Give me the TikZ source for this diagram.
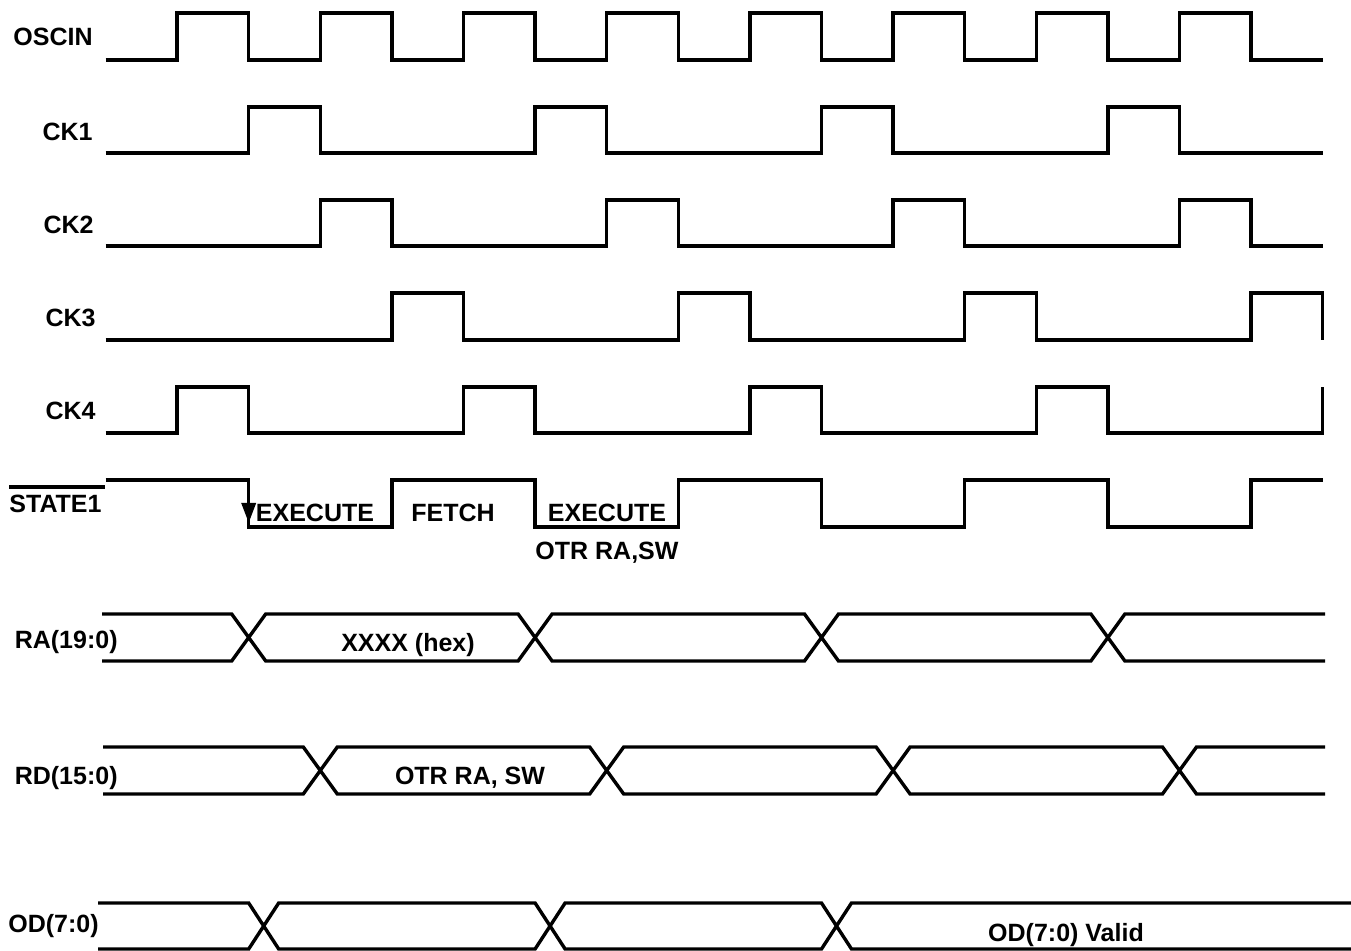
\documentclass[tikz,border=0pt]{standalone}
\usepackage{fontspec}
\setmainfont{Liberation Sans}
\usetikzlibrary{arrows.meta,positioning}

\begin{document}
\begin{tikzpicture}[x=0.5pt,y=-0.5pt,
    sig/.style={line width=1.7pt},
    lbl/.style={font=\bfseries\fontsize{12.5}{14}\selectfont,inner sep=0pt},
    declare function={tk(\k)=105.5+71.6*\k;}]
   \useasboundingbox (0,0) rectangle (1351,951);

   \node[lbl,anchor=base east] (oscin) at (93,46)  {OSCIN};
   \node[lbl,anchor=base east] (ck1)   at (93,141) {CK1};
   \node[lbl,anchor=base east] (ck2)   at (94,234) {CK2};
   \node[lbl,anchor=base east] (ck3)   at (96,327) {CK3};
   \node[lbl,anchor=base east] (ck4)   at (96,420) {CK4};
   \node[lbl,anchor=base west] (state) at (9,513)  {STATE1};
   \node[lbl,anchor=base east] (ra)    at (118,649) {RA(19:0)};
   \node[lbl,anchor=base east] (rd)    at (118,785) {RD(15:0)};
   \node[lbl,anchor=base east] (od)    at (99,933)  {OD(7:0)};

   \node[lbl,anchor=base] (exec1) at (315,522) {EXECUTE};
   \node[lbl,anchor=base] (fetch) at (453,522) {FETCH};
   \node[lbl,anchor=base] (exec2) at (607,522) {EXECUTE};
   \node[lbl,anchor=base] (instr) at (607,560) {OTR RA,SW};
   \node[lbl,anchor=base] (addr)  at (408,652) {XXXX (hex)};
   \node[lbl,anchor=base] (data)  at (470,785) {OTR RA, SW};
   \node[lbl,anchor=base] (valid) at (1066,942) {OD(7:0) Valid};

   \draw[sig] ([yshift=4pt]state.north west) -- ([yshift=4pt,xshift=1.5pt]state.north east);

   \draw[sig] ({tk(0)},60) \foreach \k in {1,3,...,15}
      { -- ({tk(\k)},60) -- ({tk(\k)},13) -- ({tk(\k+1)},13) -- ({tk(\k+1)},60) } -- ({tk(17)},60);
   \draw[sig] ({tk(0)},153) \foreach \k in {2,6,10,14}
      { -- ({tk(\k)},153) -- ({tk(\k)},107) -- ({tk(\k+1)},107) -- ({tk(\k+1)},153) } -- ({tk(17)},153);
   \draw[sig] ({tk(0)},246) \foreach \k in {3,7,11,15}
      { -- ({tk(\k)},246) -- ({tk(\k)},200) -- ({tk(\k+1)},200) -- ({tk(\k+1)},246) } -- ({tk(17)},246);
   \draw[sig] ({tk(0)},340) \foreach \k in {4,8,12}
      { -- ({tk(\k)},340) -- ({tk(\k)},293) -- ({tk(\k+1)},293) -- ({tk(\k+1)},340) }
      -- ({tk(16)},340) -- ({tk(16)},293) -- ({tk(17)},293) -- ({tk(17)},340);
   \draw[sig] ({tk(0)},433) \foreach \k in {1,5,9,13}
      { -- ({tk(\k)},433) -- ({tk(\k)},387) -- ({tk(\k+1)},387) -- ({tk(\k+1)},433) }
      -- ({tk(17)},433) -- ({tk(17)},387);
   \draw[sig] ({tk(0)},480) \foreach \k in {2,6,10,14}
      { -- ({tk(\k)},480) -- ({tk(\k)},527) -- ({tk(\k+2)},527) -- ({tk(\k+2)},480) } -- ({tk(17)},480);
   \draw[sig,-{Triangle[length=10pt,width=7pt]}] ({tk(2)},480) -- ({tk(2)},523);

   \draw[sig] (102,614) \foreach \k in {2,6,10,14}
      { -- ({tk(\k)-17},614) -- ({tk(\k)},637.5) -- ({tk(\k)+17},614) } -- (1325,614);
   \draw[sig] (102,661) \foreach \k in {2,6,10,14}
      { -- ({tk(\k)-17},661) -- ({tk(\k)},637.5) -- ({tk(\k)+17},661) } -- (1325,661);

   \draw[sig] (103,747) \foreach \k in {3,7,11,15}
      { -- ({tk(\k)-17},747) -- ({tk(\k)},770.5) -- ({tk(\k)+17},747) } -- (1325,747);
   \draw[sig] (103,794) \foreach \k in {3,7,11,15}
      { -- ({tk(\k)-17},794) -- ({tk(\k)},770.5) -- ({tk(\k)+17},794) } -- (1325,794);

   \draw[sig] (98,903) \foreach \k in {2,6,10}
      { -- ({tk(\k)},903) -- ({tk(\k)+15},926) -- ({tk(\k)+30},903) } -- (1352,903);
   \draw[sig] (98,949) \foreach \k in {2,6,10}
      { -- ({tk(\k)},949) -- ({tk(\k)+15},926) -- ({tk(\k)+30},949) } -- (1352,949);
\end{tikzpicture}
\end{document}
